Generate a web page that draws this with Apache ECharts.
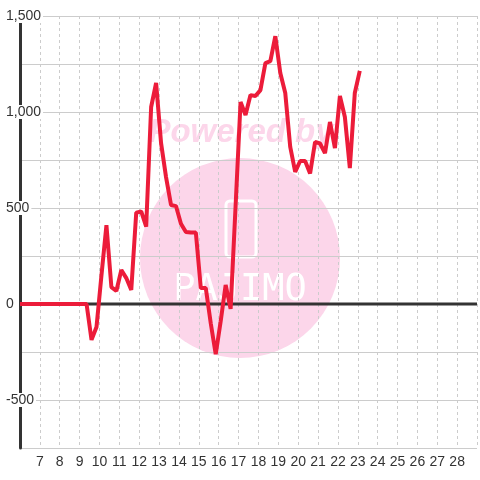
<!DOCTYPE html>
<html>
<head>
<meta charset="utf-8">
<script src="https://cdn.jsdelivr.net/npm/echarts@6/dist/echarts.min.js"></script>
<style>
  html, body { margin: 0; padding: 0; background: #fff; }
  #chart { width: 480px; height: 480px; }
</style>
</head>
<body>
<div id="chart"></div>
<script>
// x positions of the points (day of month, fractional)
const xs = [6, 9.35, 9.6, 9.85, 10.1, 10.35, 10.6, 10.85, 11.1, 11.35, 11.6, 11.85, 12.1, 12.35,
  12.6, 12.85, 13.1, 13.35, 13.6, 13.85, 14.1, 14.35, 14.6, 14.85, 15.1, 15.35, 15.6, 15.85,
  16.1, 16.35, 16.6, 16.85, 17.1, 17.35, 17.6, 17.85, 18.1, 18.35, 18.6, 18.85, 19.1, 19.35,
  19.6, 19.85, 20.1, 20.35, 20.6, 20.85, 21.1, 21.35, 21.6, 21.85, 22.1, 22.35, 22.6, 22.85, 23.1];
// values
const values = [0, 0, -187, -120, 150, 411, 88, 68, 177, 135, 73, 476, 482, 403,
  1026, 1151, 838, 661, 516, 510, 418, 375, 372, 372, 83, 83, -100, -262,
  -90, 99, -25, 510, 1052, 984, 1088, 1083, 1114, 1255, 1265, 1395, 1203, 1099,
  818, 688, 745, 745, 680, 844, 836, 786, 948, 812, 1083, 974, 708, 1099, 1214];
const xTicks = [7, 8, 9, 10, 11, 12, 13, 14, 15, 16, 17, 18, 19, 20, 21, 22, 23, 24, 25, 26, 27, 28];
const yTicks = [-500, 0, 500, 1000, 1500];
const xRange = [6, 29];

const chart = echarts.init(document.getElementById("chart"));
const font = "Liberation Sans";

function fmt(v) {
  return String(v).replace(/\B(?=(\d{3})+(?!\d))/g, ",");
}

const option = {
  animation: false,
  backgroundColor: "#fff",
  grid: { left: 20, right: 0, top: 16, bottom: 32 },
  // watermark
  graphic: {
    elements: [
      { type: "circle", z: -10, silent: true, shape: { cx: 240, cy: 258, r: 100 }, style: { fill: "#fcd6ea" } },
      {
        type: "text", z: -10, silent: true,
        style: { text: "Powered by", x: 241, y: 133, align: "center", verticalAlign: "middle",
          font: 'italic bold 33px "Liberation Sans"', fill: "#fcd6ea" },
      },
      {
        type: "rect", z: -10, silent: true,
        shape: { x: 226, y: 201, width: 30, height: 56, r: 4 },
        style: { fill: "none", stroke: "#fff", lineWidth: 3 },
      },
      {
        type: "text", z: -10, silent: true,
        style: { text: "PAJIMO", x: 240, y: 290, align: "center", verticalAlign: "middle",
          font: '37px "DejaVu Sans Mono"', fill: "#fff" },
      },
    ],
  },
  xAxis: {
    type: "value", min: xRange[0], max: xRange[1], interval: 1,
    axisLine: { show: false, onZero: false },
    axisTick: { show: false },
    axisLabel: {
      color: "#333", fontSize: 14, fontFamily: font, margin: 7,
      formatter: (v) => (xTicks.indexOf(v) >= 0 ? String(v) : ""),
    },
    splitLine: { show: true, lineStyle: { color: "#ccc", width: 1, type: [3, 3] } },
  },
  yAxis: {
    type: "value", min: -750, max: 1500, interval: 250, z: 1,
    axisLine: { show: true, onZero: false, lineStyle: { color: "#333", width: 3 } },
    axisTick: { show: false },
    axisLabel: {
      align: "left", margin: 16, color: "#333", fontSize: 14, fontFamily: font,
      formatter: (v) => (yTicks.indexOf(v) >= 0 ? "{b|" + fmt(v) + "}" : ""),
      rich: {
        b: { color: "#333", fontSize: 14, fontFamily: font, backgroundColor: "#fff", padding: [0, 2] },
      },
    },
    splitLine: { show: true, lineStyle: { color: "#ccc", width: 1 } },
  },
  series: [
    {
      // zero line
      type: "line",
      z: 1,
      data: [[xRange[0], 0], [xRange[1], 0]],
      showSymbol: false,
      silent: true,
      lineStyle: { color: "#333", width: 3 },
    },
    {
      type: "line",
      z: 2,
      data: xs.map((x, i) => [x, values[i]]),
      showSymbol: false,
      lineStyle: { color: "#ec1c3a", width: 4 },
      itemStyle: { color: "#ec1c3a" },
    },
  ],
};

chart.setOption(option);
</script>
</body>
</html>
